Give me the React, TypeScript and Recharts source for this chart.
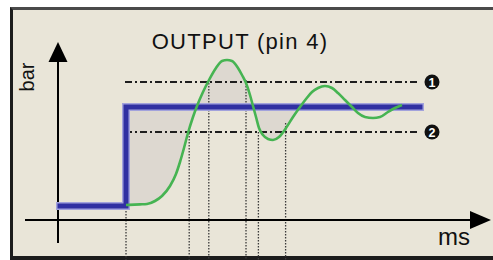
import React from 'react';
import { ComposedChart, Line, Area, XAxis, YAxis, ReferenceLine, ReferenceDot } from 'recharts';

// setpoint (blue step), ms / bar
const STEP_T = [0.5, 17, 17, 90.5];
const STEP_BAR = [0.7, 0.7, 5.65, 5.65];

// output response (green)
const RESP_T = [17, 20.5, 22.25, 24.25, 26, 28, 29.5, 30.5, 31.5, 32.5, 33.75, 34.75, 36.25, 37.75, 39.5, 41, 42.25, 43.5, 45, 46, 47, 48, 48.75, 49.5, 50.25, 51.25, 52.5, 53.75, 55.25, 57, 58.75, 60.5, 62, 63.5, 65, 66.75, 68.5, 70, 71.75, 73.5, 75, 76.75, 78.75, 80.5, 82.5, 84.25, 86];
const RESP_BAR = [0.75, 0.78, 0.8, 0.95, 1.2, 1.7, 2.3, 2.9, 3.6, 4.35, 5.15, 5.7, 6.4, 7.0, 7.6, 7.95, 8.0, 7.95, 7.6, 7.25, 6.85, 6.25, 5.7, 5.15, 4.6, 4.25, 4.05, 4.0, 4.15, 4.6, 5.15, 5.65, 6.05, 6.4, 6.6, 6.7, 6.6, 6.35, 6.0, 5.65, 5.35, 5.15, 5.1, 5.15, 5.4, 5.6, 5.75];

// tolerance bands 1 and 2
const BAND_LABELS = ['1', '2'];
const BAND_BAR = [6.9, 4.4];
const BAND_FROM = 16.75;
const BAND_TO = 90.5;

// dotted time markers
const MARK_T = [17, 32.8, 37.7, 47, 50.1, 56.9];
const MARK_TOP = [0.6, 4.35, 7.0, 7.0, 4.4, 4.85];
const SHADE_END = 60.5;

const stepData = STEP_T.map((t, i) => ({ t, v: STEP_BAR[i] }));
const respData = RESP_T.map((t, i) => ({ t, v: RESP_BAR[i] }));
const high = STEP_BAR[STEP_BAR.length - 1];
const shadeData = respData
    .filter((d) => d.t <= SHADE_END)
    .map((d) => ({ t: d.t, r: [Math.min(d.v, high), Math.max(d.v, high)] }));

const UpArrow = (p: any) => (
    <polygon points={`${p.cx},${p.cy} ${p.cx - 9.5},${p.cy + 20} ${p.cx + 9.5},${p.cy + 20}`} fill="#000" />
);
const RightArrow = (p: any) => (
    <polygon points={`${p.cx},${p.cy} ${p.cx - 21},${p.cy - 9} ${p.cx - 21},${p.cy + 9}`} fill="#000" />
);
const Badge = (label: string) => (p: any) => (
    <g>
        <circle cx={p.cx} cy={p.cy} r={7.5} fill="#111" />
        <text x={p.cx} y={p.cy + 4.5} textAnchor="middle" fill="#fff" fontSize={12.5} fontWeight={700}
            fontFamily="'Liberation Sans', Arial, sans-serif">{label}</text>
    </g>
);

const font = "'Liberation Sans', Arial, sans-serif";

export default function App() {
    return (
        <div style={{ position: 'absolute', left: 0, top: 0, width: 493, height: 260, background: '#fff', overflow: 'hidden' }}>
            <div style={{
                position: 'absolute', left: 10, top: 7, width: 490, height: 246,
                background: '#e9e5d8', borderLeft: '3px solid #1c1c1c', borderTop: '3px solid #4a4a4a', borderBottom: '4px solid #1c1c1c',
            }} />
            <div style={{ position: 'absolute', left: 0, top: 0 }}>
                <ComposedChart width={493} height={260} margin={{ top: 0, right: 0, bottom: 0, left: 0 }}>
                    <XAxis type="number" dataKey="t" domain={[-14.5, 108.75]} hide allowDataOverflow />
                    <YAxis type="number" domain={[-2, 11]} hide allowDataOverflow />
                    <Area data={shadeData} dataKey="r" type="monotone" stroke="none" fill="#d6cfcc" fillOpacity={0.6}
                        dot={false} activeDot={false} isAnimationActive={false} />
                    {BAND_BAR.map((b) => (
                        <ReferenceLine key={b} segment={[{ x: BAND_FROM, y: b }, { x: BAND_TO, y: b }]}
                            stroke="#1e1e1e" strokeWidth={1.8} strokeDasharray="7 3 2 3" />
                    ))}
                    {MARK_T.map((t, i) => (
                        <ReferenceLine key={t} segment={[{ x: t, y: MARK_TOP[i] }, { x: t, y: -2 }]}
                            stroke="#3a3a3a" strokeWidth={1.3} strokeDasharray="1.5 1.5" />
                    ))}
                    <ReferenceLine segment={[{ x: 0, y: -1.15 }, { x: 0, y: 8.0 }]} stroke="#000" strokeWidth={2} />
                    <ReferenceLine segment={[{ x: -8.25, y: 0 }, { x: 103, y: 0 }]} stroke="#000" strokeWidth={2} />
                    <ReferenceDot x={0} y={8.9} r={1} shape={UpArrow} />
                    <ReferenceDot x={108.25} y={0} r={1} shape={RightArrow} />
                    {BAND_BAR.map((b, i) => (
                        <ReferenceDot key={'b' + i} x={93.5} y={b} r={1} shape={Badge(BAND_LABELS[i])} />
                    ))}
                    <Line data={stepData} dataKey="v" type="linear" stroke="#a2a2dc" strokeWidth={8} dot={false} activeDot={false}
                        strokeLinejoin="miter" strokeLinecap="square" isAnimationActive={false} />
                    <Line data={stepData} dataKey="v" type="linear" stroke="#3030a2" strokeWidth={5} dot={false} activeDot={false}
                        strokeLinejoin="miter" strokeLinecap="square" isAnimationActive={false} />
                    <Line data={respData} dataKey="v" type="monotone" stroke="#46b452" strokeWidth={2.6} dot={false} activeDot={false}
                        isAnimationActive={false} />
                </ComposedChart>
            </div>
            <div style={{ position: 'absolute', left: 240, top: 31, transform: 'translateX(-50%)', whiteSpace: 'nowrap', fontFamily: font, fontSize: 22, letterSpacing: 1.3, color: '#111', lineHeight: '22px' }}>
                OUTPUT (pin 4)
            </div>
            <div style={{ position: 'absolute', left: 27, top: 77, transform: 'translate(-50%, -50%) rotate(-90deg)', fontFamily: font, fontSize: 20, color: '#111', lineHeight: '20px' }}>
                bar
            </div>
            <div style={{ position: 'absolute', left: 438, top: 225, fontFamily: font, fontSize: 24, color: '#111', lineHeight: '24px' }}>
                ms
            </div>
        </div>
    );
}
